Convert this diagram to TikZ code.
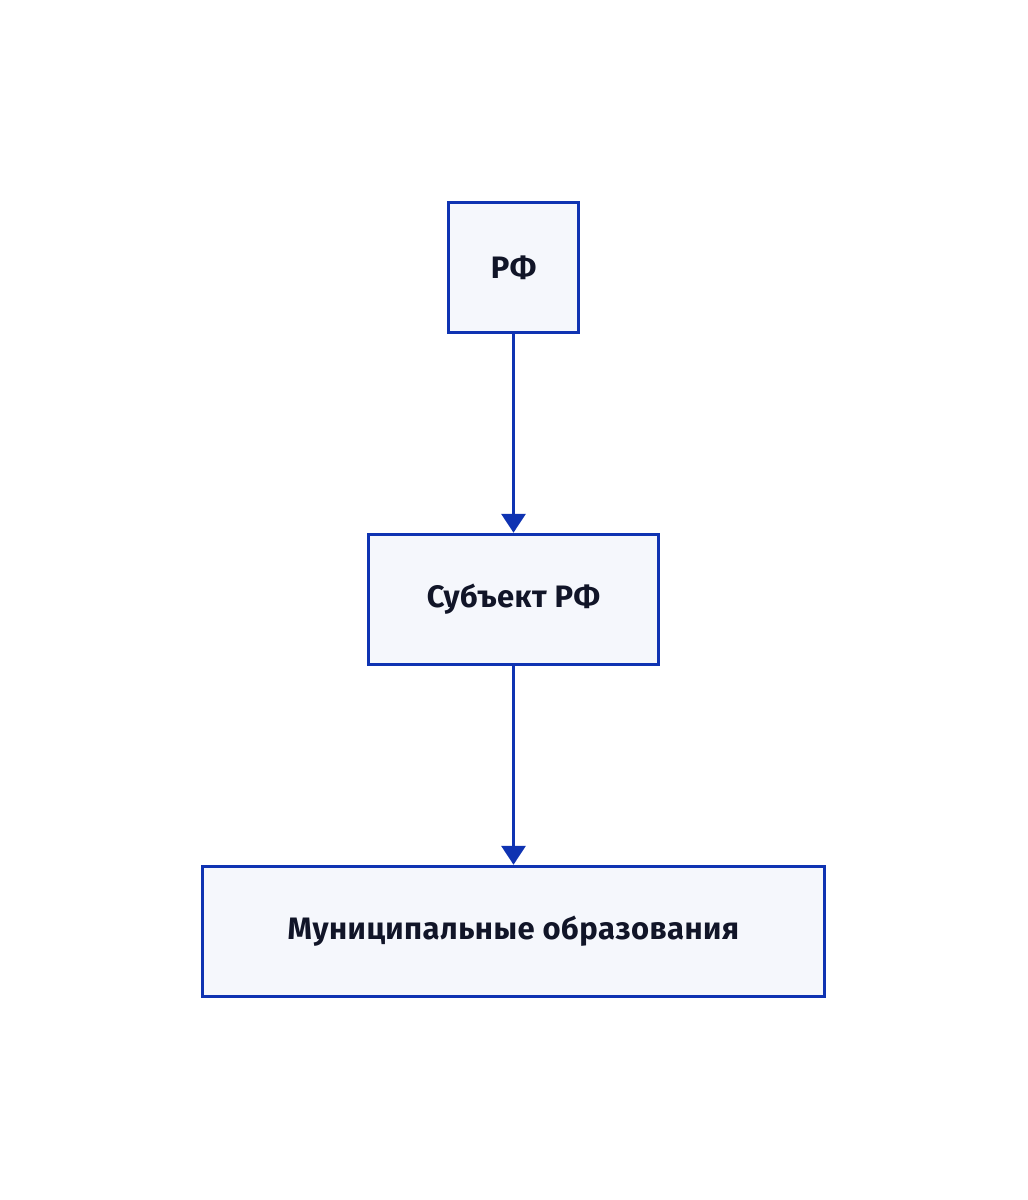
\documentclass[tikz,border=0pt]{standalone}
\usepackage{fontspec}
\setmainfont{Fira Sans}[LetterSpace=1.5]
\usetikzlibrary{arrows.meta}
\definecolor{edgeblue}{HTML}{0F33B2}
\definecolor{boxfill}{HTML}{F5F7FC}
\definecolor{txt}{HTML}{111528}
\tikzset{
  box/.style={draw=edgeblue, fill=boxfill, line width=3.5pt, minimum height=130pt, inner sep=0pt,
    font=\fontsize{31}{37}\selectfont\bfseries, text=txt},
  link/.style={draw=edgeblue, line width=3.5pt, -{Triangle[length=19pt,width=24pt]}}
}
\begin{document}
\begin{tikzpicture}[x=1pt,y=-1pt]
\useasboundingbox (0,0) rectangle (1028,1200);
\node[box, minimum width=130pt] (rf) at (513.5,267.5) {РФ};
\node[box, minimum width=290pt] (sub) at (513.5,599.5) {Субъект РФ};
\node[box, minimum width=622pt] (mun) at (513.5,931.5) {Муниципальные образования};
\draw[link] (rf.south) -- (sub.north);
\draw[link] (sub.south) -- (mun.north);
\end{tikzpicture}
\end{document}
